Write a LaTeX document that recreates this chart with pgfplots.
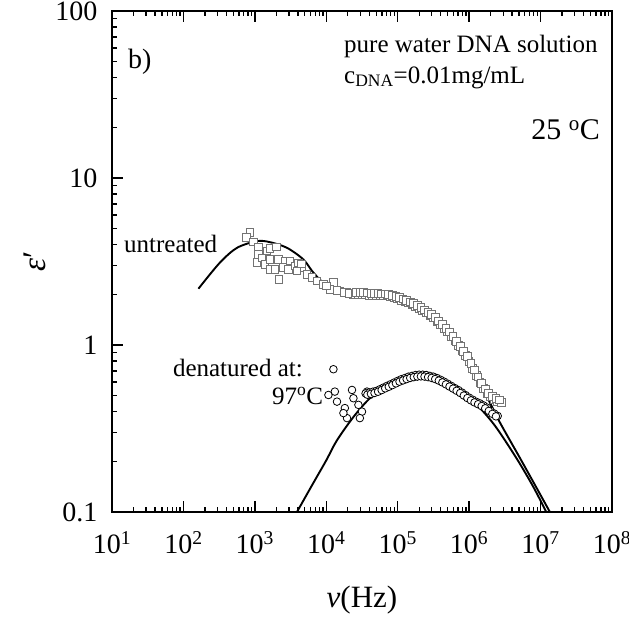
\documentclass[border=0pt]{standalone}
\usepackage{fontspec}
\setmainfont{Liberation Serif}
\usepackage{pgfplots}
\pgfplotsset{compat=1.18}
\usetikzlibrary{calc}
\newcommand{\fs}[1]{\fontsize{#1}{#1}\selectfont}
\begin{document}
\begin{tikzpicture}
\begin{axis}[
  scale only axis, width=500pt, height=501pt,
  xmode=log, ymode=log,
  xmin=10, xmax=1e8, ymin=0.1, ymax=100,
  xtick={1e1,1e2,1e3,1e4,1e5,1e6,1e7,1e8},
  xticklabels={10\textsuperscript{1},10\textsuperscript{2},10\textsuperscript{3},10\textsuperscript{4},10\textsuperscript{5},10\textsuperscript{6},10\textsuperscript{7},10\textsuperscript{8}},
  minor xtick={2e1,3e1,4e1,5e1,6e1,7e1,8e1,9e1,2e2,3e2,4e2,5e2,6e2,7e2,8e2,9e2,2e3,3e3,4e3,5e3,6e3,7e3,8e3,9e3,2e4,3e4,4e4,5e4,6e4,7e4,8e4,9e4,2e5,3e5,4e5,5e5,6e5,7e5,8e5,9e5,2e6,3e6,4e6,5e6,6e6,7e6,8e6,9e6,2e7,3e7,4e7,5e7,6e7,7e7,8e7,9e7},
  ytick={0.1,1,10,100},
  yticklabels={0.1,1,10,100},
  minor ytick={0.2,0.3,0.4,0.5,0.6,0.7,0.8,0.9,2,3,4,5,6,7,8,9,20,30,40,50,60,70,80,90},
  xtick pos=both, xticklabel pos=lower, ytick pos=left,
  tick align=inside,
  major tick length=11pt, minor tick length=5pt,
  axis line style={line width=2pt},
  every tick/.style={line width=1.4pt, black},
  ticklabel style={font=\fs{28}},
  xticklabel style={yshift=-16pt},
  yticklabel style={xshift=-11pt},
  xlabel={{\itshape ν}(Hz)},
  ylabel={{\itshape ε}′},
  xlabel style={font=\fs{31}, at={(axis description cs:0.5,0)}, anchor=center, yshift=-88pt},
  ylabel style={font=\fs{33}, at={(axis description cs:0,0.5)}, anchor=center, yshift=77pt},
]
% untreated data (squares)
\addplot[only marks, mark=square*, mark size=3.8pt, mark options={draw=black!55, fill=white, line width=1pt}] coordinates {
(851,4.73)(759,4.39)(955,4.13)(1122,3.82)(1122,3.48)(1072,3.13)(1259,3.31)(1380,3.03)(1479,3.65)(1622,3.77)(1622,3.24)(1995,3.87)
(1622,2.83)(1905,2.83)(2188,2.47)(2138,3.25)(2630,3.18)(2512,2.90)(2951,2.83)(3090,3.18)(3631,2.97)(4074,3.10)(4571,2.90)
(3890,2.77)(4467,3.05)(5370,2.65)(6310,2.53)(7413,2.42)(9120,2.31)(12589,2.36)(11220,2.15)(15488,2.10)(19498,2.06)(23988,2.01)
(10000,2.25)(14125,2.12)(17783,2.06)(21135,2.04)
(25119,2.009)(28184,2.004)(31623,2.000)(35481,1.995)(39811,1.986)(44668,1.982)(50119,1.977)(56234,1.972)(63096,1.968)(70795,1.963)
(79433,1.936)(89125,1.914)(100000,1.884)(112202,1.849)(125893,1.811)(141254,1.780)(158489,1.750)(177828,1.702)(199526,1.652)(223872,1.600)
(251189,1.552)(281838,1.503)(316228,1.459)(354813,1.387)(398107,1.321)(446684,1.256)(501187,1.194)(562341,1.127)(630957,1.054)(707946,0.989)
(794328,0.923)(891251,0.865)(1000000,0.794)(1122018,0.721)(1258925,0.656)(1412538,0.596)(1584893,0.547)(1778279,0.513)(1995262,0.488)
(2238721,0.470)(2511886,0.459)(2818383,0.453)
(26607,2.064)(29854,2.059)(33497,2.054)(37584,2.046)(42170,2.039)(47315,2.035)(53088,2.030)(59566,2.025)(66834,2.021)(74989,2.004)
(84140,1.980)(94406,1.952)(105925,1.919)(118850,1.882)(133352,1.845)(149624,1.813)(167880,1.774)(188365,1.724)(211349,1.671)(237137,1.620)
(266073,1.570)(298538,1.522)(334965,1.462)(375837,1.392)(421697,1.324)(473151,1.259)(530884,1.193)(595662,1.121)(668344,1.050)(749894,0.982)
(841395,0.918)(944061,0.852)(1059254,0.778)(1188502,0.707)(1333521,0.643)(1496236,0.587)(1678804,0.545)(1883649,0.514)(2113489,0.492)
(2371374,0.478)(2660725,0.469)
};
% denatured data (circles)
\addplot[only marks, mark=*, mark size=3.8pt, mark options={draw=black, fill=white, line width=0.8pt}] coordinates {
(12589,0.716)(10715,0.502)(13183,0.526)(14125,0.458)(18197,0.419)(19498,0.365)(17378,0.391)(22909,0.538)(23988,0.480)
(28184,0.438)(31623,0.399)(29512,0.365)(37154,0.526)(40738,0.502)(47863,0.526)
(35481,0.513)(39811,0.519)(44668,0.525)(50119,0.531)(56234,0.543)(63096,0.556)(70795,0.569)(79433,0.582)(89125,0.596)(100000,0.610)
(112202,0.624)(125893,0.634)(141254,0.646)(158489,0.653)(177828,0.661)(199526,0.664)(223872,0.664)(251189,0.661)(281838,0.653)(316228,0.646)
(354813,0.634)(398107,0.619)(446684,0.603)(501187,0.586)(562341,0.569)(630957,0.552)(707946,0.537)(794328,0.519)(891251,0.501)(1000000,0.484)
(1122018,0.470)(1258925,0.457)(1412538,0.447)(1584893,0.435)(1778279,0.422)(1995262,0.403)(2238721,0.389)(2511886,0.376)
(37584,0.504)(42170,0.510)(47315,0.516)(53088,0.525)(59566,0.537)(66834,0.550)(74989,0.562)(84140,0.575)(94406,0.589)(105925,0.603)
(118850,0.614)(133352,0.625)(149624,0.635)(167880,0.642)(188365,0.647)(211349,0.649)(237137,0.647)(266073,0.642)(298538,0.635)(334965,0.625)
(375837,0.612)(421697,0.597)(473151,0.581)(530884,0.564)(595662,0.548)(668344,0.532)(749894,0.516)(841395,0.498)(944061,0.481)(1059254,0.466)
(1188502,0.453)(1333521,0.442)(1496236,0.431)(1678804,0.418)(1883649,0.403)(2113489,0.387)(2371374,0.374)
};
% fit curves
\addplot[black, line width=1.9pt, smooth, tension=0.5] coordinates {
(162.2,2.173)(323.6,3.112)(562.3,3.819)(1071.5,4.188)(1621.8,4.130)(2818.4,3.819)(4786.3,3.251)(6606.9,2.710)(10233,2.254)(17378,2.037)
(33113,1.936)(63096,1.905)(147911,1.750)(316228,1.426)(537032,1.132)(933254,0.822)(1412538,0.582)(1949845,0.453)(2691535,0.344)
(5128614,0.211)(8912509,0.138)(13489629,0.100)(14125375,0.095)
};
\addplot[black, line width=1.9pt, smooth, tension=0.5] coordinates {
(3715,0.0955)(3890,0.1)(6310,0.1445)(10000,0.204)(14125,0.269)(25119,0.380)(45709,0.501)(107152,0.624)(204174,0.676)(354813,0.646)
(602560,0.569)(1000000,0.479)(1584893,0.398)(2454709,0.316)(4677351,0.2075)(7943282,0.141)(12022644,0.100)(12600000,0.0955)
};
% annotations
\node[anchor=base west, font=\fs{28}, inner sep=0pt] at (axis description cs:0.032,0.885) {b)};
\node[anchor=base west, font=\fs{25}, inner sep=0pt] at (axis description cs:0.464,0.918) {pure water DNA solution};
\node[anchor=base west, font=\fs{25}, inner sep=0pt] at (axis description cs:0.464,0.856) {c\textsubscript{DNA}=0.01mg/mL};
\node[anchor=base east, font=\fs{30}, inner sep=0pt] at (axis description cs:0.976,0.743) {25 \textsuperscript{o}C};
\node[anchor=base west, font=\fs{25}, inner sep=0pt] at (axis description cs:0.024,0.517) {untreated};
\node[anchor=base east, font=\fs{25}, inner sep=0pt] at (axis description cs:0.382,0.271) {denatured at:};
\node[anchor=base west, font=\fs{25}, inner sep=0pt] at (axis description cs:0.320,0.215) {97\textsuperscript{o}C};
\end{axis}
\pgfresetboundingbox
\path[use as bounding box] ($(current axis.south west)+(-112pt,-110pt)$) rectangle ($(current axis.north east)+(17pt,11pt)$);
\end{tikzpicture}
\end{document}
